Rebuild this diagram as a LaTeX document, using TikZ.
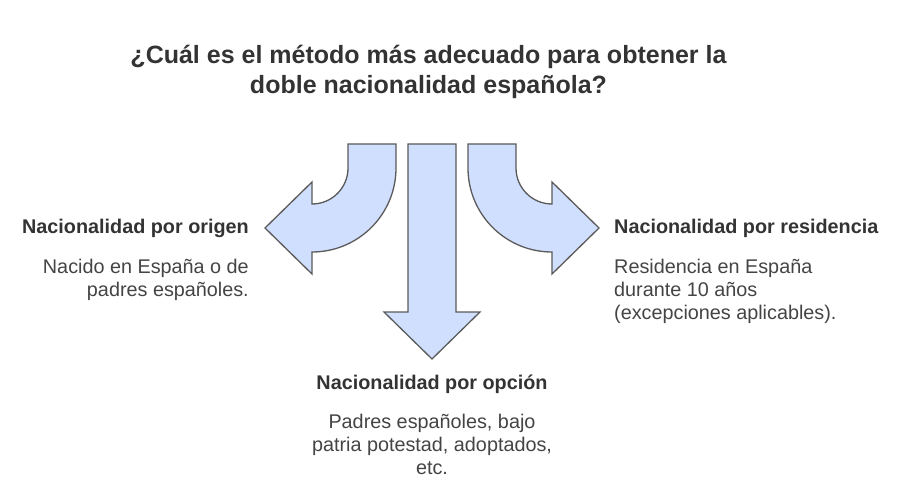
\documentclass[tikz,border=0pt]{standalone}
\usepackage{fontspec}
\setmainfont{Liberation Sans}
\definecolor{arrowfill}{HTML}{CFDFFD}
\definecolor{arrowline}{HTML}{5A5A5A}
\definecolor{titlecol}{HTML}{333333}
\definecolor{bodycol}{HTML}{444444}
\tikzset{
  bigarrow/.style={fill=arrowfill, draw=arrowline, line width=1.3pt, line join=miter},
  titletext/.style={font=\bfseries\fontsize{25}{30}\selectfont, text=titlecol, align=center, inner sep=0pt},
  headtext/.style={font=\bfseries\fontsize{19.8}{23}\selectfont, text=titlecol, inner sep=0pt},
  bodytext/.style={font=\fontsize{19.8}{23}\selectfont, text=bodycol, inner sep=0pt},
}
\begin{document}
\begin{tikzpicture}[x=1pt,y=-1pt]
\useasboundingbox (0,0) rectangle (900,492);
% title
\node[titletext] (title) at (428.5,72) {¿Cuál es el método más adecuado para obtener la\\doble nacionalidad española?};
% left arrow
\draw[bigarrow] (348,144) -- (396,144) -- (396,168)
  .. controls (396,214.4) and (358.4,252) .. (312,252)
  -- (312,274) -- (265,228) -- (312,182) -- (312,204)
  .. controls (331.9,204) and (348,187.9) .. (348,168) -- cycle;
% right arrow
\draw[bigarrow] (516,144) -- (468,144) -- (468,168)
  .. controls (468,214.4) and (505.6,252) .. (552,252)
  -- (552,274) -- (599,228) -- (552,182) -- (552,204)
  .. controls (532.1,204) and (516,187.9) .. (516,168) -- cycle;
% center arrow
\draw[bigarrow] (408,144) -- (456,144) -- (456,312) -- (480,312)
  -- (432,359) -- (384,312) -- (408,312) -- cycle;
% left texts
\node[headtext, anchor=east] (lhead) at (249,228) {Nacionalidad por origen};
\node[bodytext, anchor=north east, align=right] (lbody) at (249,259) {Nacido en España o de\\padres españoles.};
% right texts
\node[headtext, anchor=west] (rhead) at (614,228) {Nacionalidad por residencia};
\node[bodytext, anchor=north west, align=left] (rbody) at (614,259) {Residencia en España\\durante 10 años\\(excepciones aplicables).};
% bottom texts
\node[headtext] (bhead) at (432,384) {Nacionalidad por opción};
\node[bodytext, anchor=north, align=center] (bbody) at (432,414) {Padres españoles, bajo\\patria potestad, adoptados,\\etc.};
\end{tikzpicture}
\end{document}
